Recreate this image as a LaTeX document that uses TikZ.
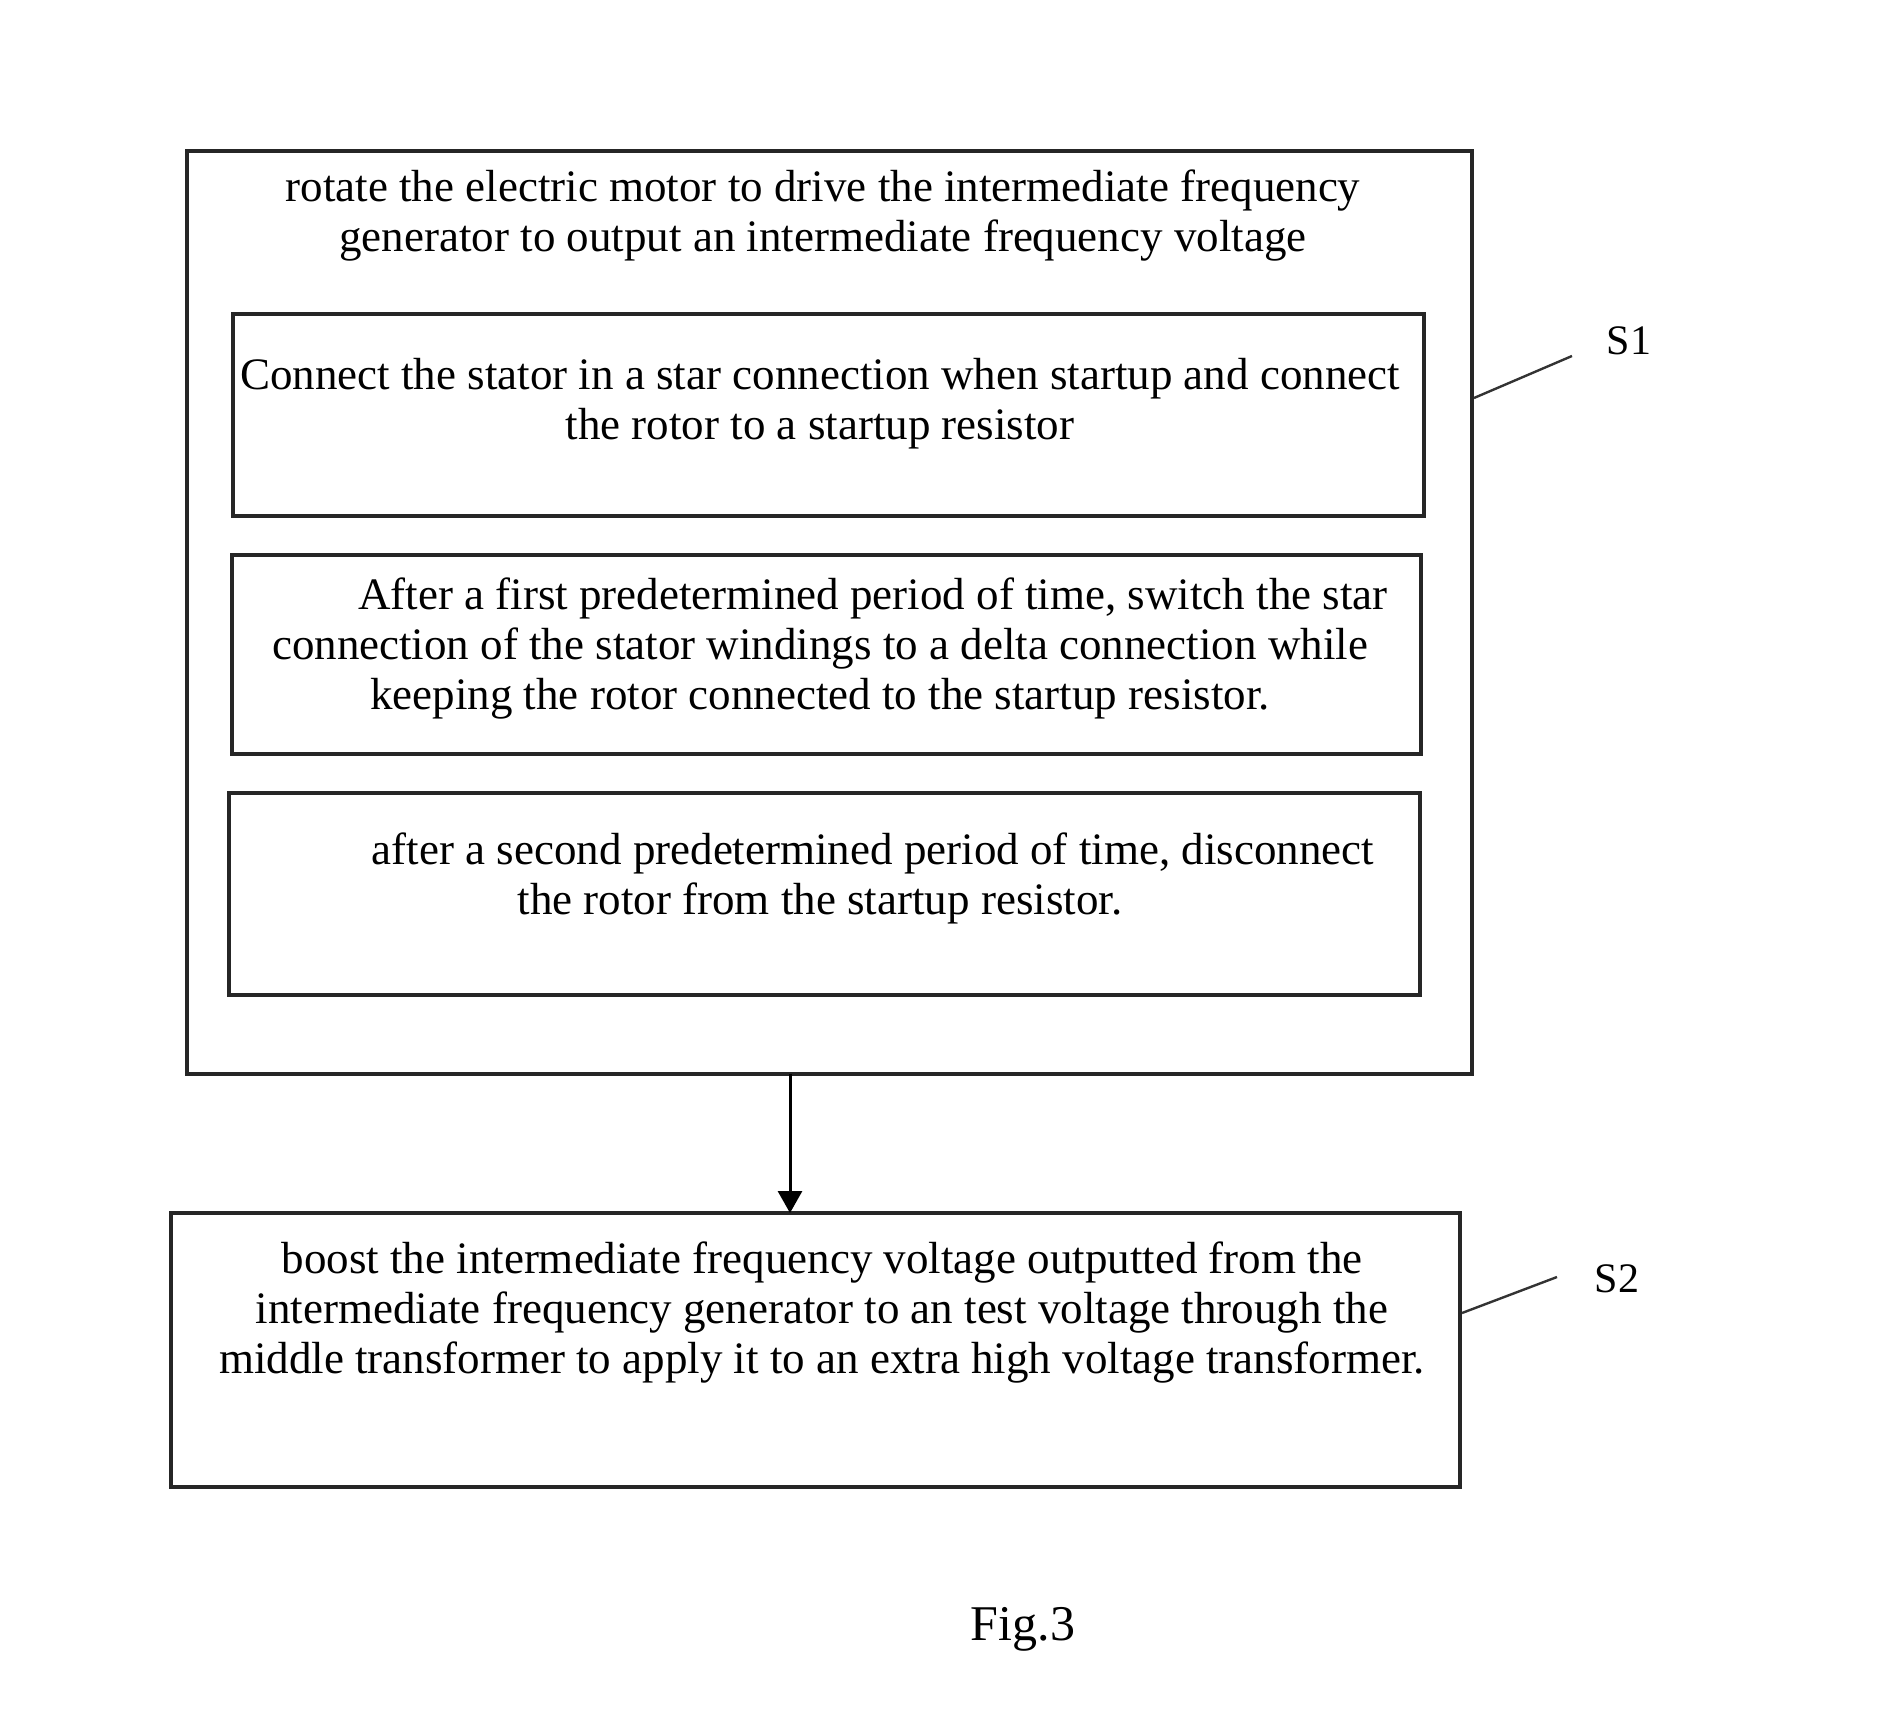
\documentclass[tikz,border=0pt]{standalone}
\usepackage{fontspec}
\setmainfont{Liberation Serif}
\usetikzlibrary{arrows.meta}
\begin{document}
\begin{tikzpicture}[x=1pt,y=-1pt,
  box/.style={draw=black!85,line width=3.2pt},
  txt/.style={align=center,inner sep=0pt,font=\fontsize{45}{50}\selectfont},
  lead/.style={draw=black!80,line width=2.4pt},
  lbl/.style={inner sep=0pt,font=\fontsize{42}{50}\selectfont}]
\useasboundingbox (0,0) rectangle (1892,1736);
% outer S1 box
\draw[box] (187,151) rectangle (1472,1074);
\coordinate (oBot) at (790,1074);
\node[txt] (t0) at (823,216) {rotate the electric motor to drive the intermediate frequency\\generator to output an intermediate frequency voltage};
% inner boxes
\draw[box] (233,314) rectangle (1424,516);
\node[txt] (t1) at (820,404) {Connect the stator in a star connection when startup and connect\\the rotor to a startup resistor};
\draw[box] (232,555) rectangle (1421,754);
\node[txt] (t2) at (820,649) {\hspace*{106pt}After a first predetermined period of time, switch the star\\connection of the stator windings to a delta connection while\\keeping the rotor connected to the startup resistor.};
\draw[box] (229,793) rectangle (1420,995);
\node[txt] (t3) at (820,878) {\hspace*{106pt}after a second predetermined period of time, disconnect\\the rotor from the startup resistor.};
% S2 box
\draw[box] (171,1213) rectangle (1460,1487);
\coordinate (sTop) at (790,1213);
\node[txt] (t4) at (822,1312) {boost the intermediate frequency voltage outputted from the\\intermediate frequency generator to an test voltage through the\\middle transformer to apply it to an extra high voltage transformer.};
% arrow
\draw[line width=3pt,-{Triangle[width=24pt,length=22pt]}] (oBot) -- (sTop);
% labels
\coordinate (l1a) at (1474,398);
\coordinate (l1b) at (1572,356);
\draw[lead] (l1a) -- (l1b);
\node[lbl] (s1) at (1629,341) {S1};
\coordinate (l2a) at (1462,1313);
\coordinate (l2b) at (1557,1277);
\draw[lead] (l2a) -- (l2b);
\node[lbl] (s2) at (1617,1279) {S2};
\node[lbl,font=\fontsize{50}{50}\selectfont] (fig) at (1023,1629) {Fig.3};
\end{tikzpicture}
\end{document}
